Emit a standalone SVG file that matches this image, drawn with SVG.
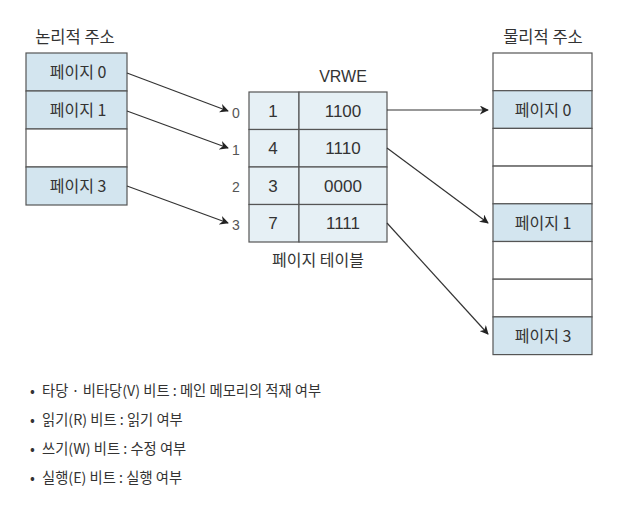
<svg xmlns="http://www.w3.org/2000/svg" width="622" height="506" viewBox="0 0 622 506">
<defs>
<style>
text{font-family:"Noto Sans CJK KR","Noto Sans",sans-serif;fill:#333}
.t{font-size:16.5px;text-anchor:middle}
.c{font-size:16px;text-anchor:middle}
.n{font-size:17px;text-anchor:middle;font-family:"Liberation Sans","Noto Sans CJK KR",sans-serif}
.v{font-size:16px;text-anchor:middle;font-family:"Liberation Sans","Noto Sans CJK KR",sans-serif}
.i{font-size:14px;text-anchor:middle;fill:#555;font-family:"Liberation Sans","Noto Sans CJK KR",sans-serif}
.b{font-size:14.3px}
.cell{stroke:#555;stroke-width:1.2}
.pg{fill:#d3e5ef}
.em{fill:#fff}
.pt{fill:#e6f0f5}
.ar{stroke:#333;stroke-width:1.2;fill:none;marker-end:url(#ah)}
</style>
<marker id="ah" viewBox="0 0 10 10" refX="9" refY="5" markerWidth="9" markerHeight="9" markerUnits="userSpaceOnUse" orient="auto">
<path d="M0,0 L10,5 L0,10 L3,5 Z" fill="#222"/>
</marker>
</defs>
<rect width="622" height="506" fill="#fff"/>

<g id="logical">
<text class="t" x="75" y="43">논리적 주소</text>
<rect class="cell pg" x="26" y="53" width="101" height="38"/>
<rect class="cell pg" x="26" y="91" width="101" height="38"/>
<rect class="cell em" x="26" y="129" width="101" height="38"/>
<rect class="cell pg" x="26" y="167" width="101" height="38"/>
<text class="c" x="78" y="78">페이지 0</text>
<text class="c" x="78" y="116">페이지 1</text>
<text class="c" x="78" y="192">페이지 3</text>
</g>

<g id="pagetable">
<text class="v" x="343" y="82">VRWE</text>
<rect class="cell pt" x="249" y="92" width="50" height="37.5"/>
<rect class="cell pt" x="299" y="92" width="88" height="37.5"/>
<rect class="cell pt" x="249" y="129.5" width="50" height="37.5"/>
<rect class="cell pt" x="299" y="129.5" width="88" height="37.5"/>
<rect class="cell pt" x="249" y="167" width="50" height="37.5"/>
<rect class="cell pt" x="299" y="167" width="88" height="37.5"/>
<rect class="cell pt" x="249" y="204.5" width="50" height="37.5"/>
<rect class="cell pt" x="299" y="204.5" width="88" height="37.5"/>
<text class="n" x="273" y="117">1</text>
<text class="n" x="343" y="117">1100</text>
<text class="n" x="273" y="154">4</text>
<text class="n" x="343" y="154">1110</text>
<text class="n" x="273" y="192">3</text>
<text class="n" x="343" y="192">0000</text>
<text class="n" x="273" y="229">7</text>
<text class="n" x="343" y="229">1111</text>
<text class="i" x="236" y="118">0</text>
<text class="i" x="236" y="155">1</text>
<text class="i" x="236" y="192">2</text>
<text class="i" x="236" y="230">3</text>
<text class="c" x="318" y="266">페이지 테이블</text>
</g>

<g id="physical">
<text class="t" x="543" y="43">물리적 주소</text>
<rect class="cell em" x="493" y="53" width="99" height="37.7"/>
<rect class="cell pg" x="493" y="90.7" width="99" height="37.7"/>
<rect class="cell em" x="493" y="128.4" width="99" height="37.7"/>
<rect class="cell em" x="493" y="166.1" width="99" height="37.7"/>
<rect class="cell pg" x="493" y="203.8" width="99" height="37.7"/>
<rect class="cell em" x="493" y="241.5" width="99" height="37.7"/>
<rect class="cell em" x="493" y="279.2" width="99" height="37.7"/>
<rect class="cell pg" x="493" y="316.9" width="99" height="37.7"/>
<text class="c" x="543" y="116">페이지 0</text>
<text class="c" x="543" y="229">페이지 1</text>
<text class="c" x="543" y="342">페이지 3</text>
</g>

<g id="connectors">
<line class="ar" x1="127" y1="73" x2="228" y2="111"/>
<line class="ar" x1="127" y1="111" x2="228" y2="148"/>
<line class="ar" x1="127" y1="186" x2="228" y2="223"/>
<line class="ar" x1="387" y1="110" x2="488" y2="110"/>
<line class="ar" x1="387" y1="148" x2="488" y2="223"/>
<line class="ar" x1="387" y1="223" x2="488" y2="334"/>
</g>

<g id="legend">
<text class="b" x="30" y="396">•</text>
<text class="b" x="42" y="396">타당 · 비타당(V) 비트 : 메인 메모리의 적재 여부</text>
<text class="b" x="30" y="425">•</text>
<text class="b" x="42" y="425">읽기(R) 비트 : 읽기 여부</text>
<text class="b" x="30" y="454">•</text>
<text class="b" x="42" y="454">쓰기(W) 비트 : 수정 여부</text>
<text class="b" x="30" y="483">•</text>
<text class="b" x="42" y="483">실행(E) 비트 : 실행 여부</text>
</g>
</svg>
